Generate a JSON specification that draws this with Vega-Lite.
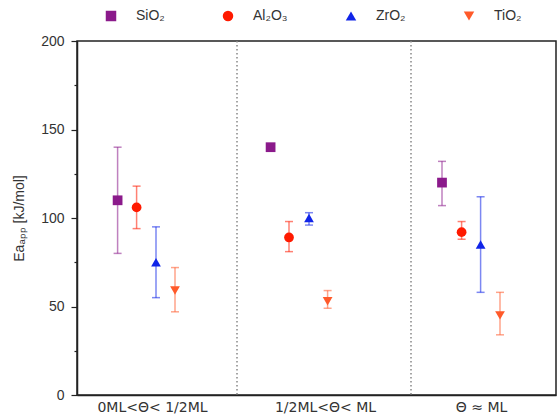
{
  "$schema": "https://vega.github.io/schema/vega-lite/v6.json",
  "width": 479,
  "height": 354,
  "autosize": {"type": "none"},
  "padding": {"left": 77, "top": 41, "right": 2, "bottom": 23},
  "config": {
    "view": {"stroke": "#222", "strokeWidth": 1.5},
    "axis": {"domainColor": "#222", "domainWidth": 1.5, "tickColor": "#222", "tickWidth": 1.2, "labelColor": "#333", "titleColor": "#333", "grid": false}
  },
  "datasets": {
    "pts": [
      {"group": "0ML<Θ< 1/2ML", "material": "SiO₂", "pos": 2.03, "ea": 110, "lo": 80, "hi": 140},
      {"group": "0ML<Θ< 1/2ML", "material": "Al₂O₃", "pos": 2.98, "ea": 106, "lo": 94, "hi": 118},
      {"group": "0ML<Θ< 1/2ML", "material": "ZrO₂", "pos": 3.95, "ea": 75, "lo": 55, "hi": 95},
      {"group": "0ML<Θ< 1/2ML", "material": "TiO₂", "pos": 4.9, "ea": 59, "lo": 47, "hi": 72},
      {"group": "1/2ML<Θ< ML", "material": "SiO₂", "pos": 9.68, "ea": 140, "lo": 140, "hi": 140},
      {"group": "1/2ML<Θ< ML", "material": "Al₂O₃", "pos": 10.6, "ea": 89, "lo": 81, "hi": 98},
      {"group": "1/2ML<Θ< ML", "material": "ZrO₂", "pos": 11.6, "ea": 100, "lo": 96, "hi": 103},
      {"group": "1/2ML<Θ< ML", "material": "TiO₂", "pos": 12.53, "ea": 53, "lo": 49, "hi": 59},
      {"group": "Θ ≈ ML", "material": "SiO₂", "pos": 18.25, "ea": 120, "lo": 107, "hi": 132},
      {"group": "Θ ≈ ML", "material": "Al₂O₃", "pos": 19.23, "ea": 92, "lo": 88, "hi": 98},
      {"group": "Θ ≈ ML", "material": "ZrO₂", "pos": 20.18, "ea": 85, "lo": 58, "hi": 112},
      {"group": "Θ ≈ ML", "material": "TiO₂", "pos": 21.15, "ea": 45, "lo": 34, "hi": 58}
    ],
    "seps": [{"sep": 8.0}, {"sep": 16.7}]
  },
  "layer": [
    {
      "data": {"name": "seps"},
      "mark": {"type": "rule", "color": "#888", "strokeDash": [1.5, 2.5], "strokeWidth": 1.5},
      "encoding": {
        "x": {"field": "sep", "type": "quantitative", "title": null, "scale": {"domain": [0, 23.95]}}
      }
    },
    {
      "data": {"name": "pts"},
      "mark": {"type": "rule", "strokeWidth": 1.5, "strokeOpacity": 0.55},
      "encoding": {
        "x": {"field": "pos", "type": "quantitative", "title": null, "scale": {"domain": [0, 23.95]}},
        "y": {"field": "lo", "type": "quantitative", "title": "Eaₐₚₚ [kJ/mol]", "scale": {"domain": [0, 200]}},
        "y2": {"field": "hi"},
        "color": {"field": "material", "type": "nominal",
          "scale": {"domain": ["SiO₂", "Al₂O₃", "ZrO₂", "TiO₂"], "range": ["#8B1A8B", "#FF1A00", "#1024E8", "#FF5A2A"]}}
      }
    },
    {
      "data": {"name": "pts"},
      "mark": {"type": "tick", "orient": "horizontal", "size": 8, "thickness": 1.5, "fillOpacity": 0.55},
      "encoding": {
        "x": {"field": "pos", "type": "quantitative", "title": null, "scale": {"domain": [0, 23.95]}},
        "y": {"field": "lo", "type": "quantitative", "title": "Eaₐₚₚ [kJ/mol]", "scale": {"domain": [0, 200]}},
        "color": {"field": "material", "type": "nominal",
          "scale": {"domain": ["SiO₂", "Al₂O₃", "ZrO₂", "TiO₂"], "range": ["#8B1A8B", "#FF1A00", "#1024E8", "#FF5A2A"]}}
      }
    },
    {
      "data": {"name": "pts"},
      "mark": {"type": "tick", "orient": "horizontal", "size": 8, "thickness": 1.5, "fillOpacity": 0.55},
      "encoding": {
        "x": {"field": "pos", "type": "quantitative", "title": null, "scale": {"domain": [0, 23.95]}},
        "y": {"field": "hi", "type": "quantitative", "title": "Eaₐₚₚ [kJ/mol]", "scale": {"domain": [0, 200]}},
        "color": {"field": "material", "type": "nominal",
          "scale": {"domain": ["SiO₂", "Al₂O₃", "ZrO₂", "TiO₂"], "range": ["#8B1A8B", "#FF1A00", "#1024E8", "#FF5A2A"]}}
      }
    },
    {
      "data": {"name": "pts"},
      "mark": {"type": "point", "filled": true, "opacity": 1, "size": 95},
      "encoding": {
        "x": {"field": "pos", "type": "quantitative", "scale": {"domain": [0, 23.95]},
          "axis": {"title": null, "values": [3.75, 12.4, 20.2], "ticks": false, "labelPadding": 5,
            "labelFont": "DejaVu Sans", "labelFontSize": 14,
            "labelExpr": "datum.value < 8 ? '0ML<Θ< 1/2ML' : (datum.value < 16 ? '1/2ML<Θ< ML' : 'Θ ≈ ML')"}},
        "y": {"field": "ea", "type": "quantitative", "scale": {"domain": [0, 200]},
          "axis": {"title": "Eaₐₚₚ [kJ/mol]", "values": [0, 25, 50, 75, 100, 125, 150, 175, 200],
            "labelExpr": "datum.value % 50 === 0 ? datum.label : ''",
            "tickSize": {"condition": {"test": "datum.value % 50 === 0", "value": 6}, "value": 3},
            "labelFont": "Liberation Sans", "labelFontSize": 14, "labelPadding": 7,
            "titleFont": "Liberation Sans", "titleFontSize": 14, "titleFontWeight": "normal", "titlePadding": 14}},
        "color": {"field": "material", "type": "nominal",
          "scale": {"domain": ["SiO₂", "Al₂O₃", "ZrO₂", "TiO₂"], "range": ["#8B1A8B", "#FF1A00", "#1024E8", "#FF5A2A"]},
          "legend": {"title": null, "orient": "none", "direction": "horizontal", "legendX": 27, "legendY": -32,
            "labelFont": "Liberation Sans", "labelFontSize": 14, "labelColor": "#333", "symbolSize": 110,
            "labelOffset": 18, "columnPadding": 56, "symbolStrokeWidth": 0, "symbolOpacity": 1}},
        "shape": {"field": "material", "type": "nominal",
          "scale": {"domain": ["SiO₂", "Al₂O₃", "ZrO₂", "TiO₂"], "range": ["square", "circle", "triangle-up", "triangle-down"]},
          "legend": {"title": null, "orient": "none", "direction": "horizontal", "legendX": 27, "legendY": -32,
            "labelFont": "Liberation Sans", "labelFontSize": 14, "labelColor": "#333", "symbolSize": 110,
            "labelOffset": 18, "columnPadding": 56, "symbolStrokeWidth": 0, "symbolOpacity": 1}}
      }
    }
  ]
}
